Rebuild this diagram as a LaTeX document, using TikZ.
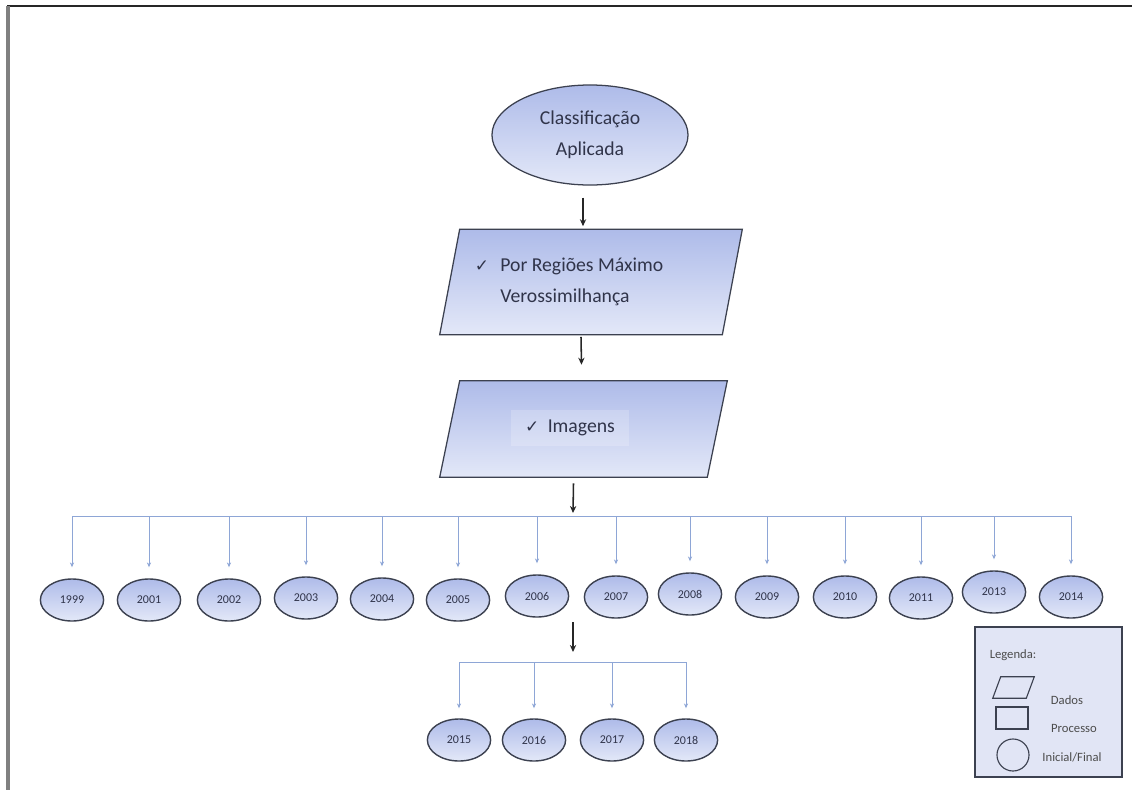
\documentclass[tikz,border=0pt]{standalone}
\usepackage{fontspec}
\setmainfont{Carlito}
\newfontfamily\symfont{DejaVu Sans}
\usetikzlibrary{positioning,arrows.meta,shapes.geometric,calc}
\definecolor{shapeblue}{HTML}{AEBBE9}
\definecolor{shapepale}{HTML}{E3E8F8}
\definecolor{edgeclr}{HTML}{3C4150}
\definecolor{linkblue}{HTML}{8EA6D6}
\definecolor{txtclr}{HTML}{30344A}
\definecolor{legendbg}{HTML}{E1E5F5}
\newcommand{\chk}[1]{{\symfont\fontsize{12}{12}\selectfont ✓}\hspace{#1}}

\begin{document}
\begin{tikzpicture}[
    x=0.025cm, y=-0.025cm,
    inicio/.style={ellipse, draw=edgeclr, line width=0.9pt, top color=shapeblue,
                   bottom color=shapepale, text=txtclr, align=center,
                   font=\fontsize{14}{22}\selectfont, minimum width=4.9cm, minimum height=2.5cm},
    dadosbox/.style={rectangle, inner sep=0pt},
    dados/.style={draw=edgeclr, line width=0.9pt, top color=shapeblue, bottom color=shapepale},
    dadostxt/.style={align=left, text=txtclr, font=\fontsize{14}{22}\selectfont},
    ano/.style={ellipse, draw=edgeclr, line width=1pt, top color=shapeblue,
                bottom color=shapepale, minimum width=1.58cm, minimum height=1.05cm,
                inner sep=0pt, text=txtclr, font=\fontsize{8.5}{10}\selectfont},
    arr/.style={-{Stealth[length=5pt,width=4.5pt]}, line width=1.1pt, black!85},
    link/.style={draw=linkblue, line width=0.6pt},
    linkarr/.style={link, -{Stealth[length=3.5pt,width=3pt]}},
    leg/.style={text=black!70, font=\fontsize{9}{10}\selectfont},
    legshape/.style={draw=edgeclr, line width=0.8pt}
  ]
    \useasboundingbox (0,0) rectangle (1132,790);
    \draw[line width=1.5pt, black!85] (7,6) -- (1132,6);
    \draw[line width=2.8pt, black!50] (8,6) -- (8,790);

    \node[inicio] (inicio) at (590,135) {Classificação\\Aplicada};

    \node[dadosbox, minimum width=7.55cm, minimum height=2.625cm] (porreg) at (591,282) {};
    \draw[dados] (porreg.south west) -- ($(porreg.south east)+(-20,0)$)
      -- (porreg.north east) -- ($(porreg.north west)+(20,0)$) -- cycle;
    \node[dadostxt, anchor=west] (porregtxt) at (470,282)
      {\chk{8pt}Por Regiões Máximo\\\phantom{\chk{8pt}}Verossimilhança};

    \node[dadosbox, minimum width=7.175cm, minimum height=2.4cm] (imagens) at (583.5,429) {};
    \draw[dados] (imagens.south west) -- ($(imagens.south east)+(-20,0)$)
      -- (imagens.north east) -- ($(imagens.north west)+(20,0)$) -- cycle;
    \node[dadostxt, fill=white, fill opacity=0.2, text opacity=1, inner xsep=10pt,
          inner ysep=7pt] (imagenstxt) at (570,428) {\chk{6pt}Imagens};

    \coordinate (bus1) at (573,516);
    \coordinate (split2) at (573,622);
    \coordinate (bus2) at (573,662);

    \draw[arr] ($(inicio.south)+(-7,12)$) -- ($(porreg.north)+(-8,-3)$);
    \draw[arr] ($(porreg.south)+(-10,2)$) -- ($(imagens.north)+(-2,-16)$);
    \draw[arr] ($(imagens.south)+(-10,6)$) -- ($(bus1)+(0,-3)$);

    \foreach \yr/\xx/\yy in {1999/72/600, 2001/149/600, 2002/229/600, 2003/306/598,
        2004/382/599, 2005/458/600, 2006/537/596, 2007/616/597, 2008/690/594,
        2009/767/597, 2010/845/597, 2011/921/598, 2013/994/592, 2014/1071/597}
      \node[ano] (y\yr) at (\xx,\yy) {\yr};
    \draw[link] (y1999 |- bus1) -- (y2014 |- bus1);
    \foreach \yr in {1999,2001,2002,2003,2004,2005,2006,2007,2008,2009,2010,2011,2013,2014}
      \draw[linkarr] (y\yr |- bus1) -- ($(y\yr.north)+(0,-11)$);

    \draw[arr] (split2) -- ($(bus2)+(0,-10)$);
    \foreach \yr/\xx in {2015/459, 2016/534, 2017/612, 2018/686}
      \node[ano] (y\yr) at (\xx,740) {\yr};
    \draw[link] (y2015 |- bus2) -- (y2018 |- bus2);
    \foreach \yr in {2015,2016,2017,2018}
      \draw[linkarr] (y\yr |- bus2) -- ($(y\yr.north)+(0,-10)$);

    \node[draw=edgeclr, line width=1pt, fill=legendbg, minimum width=3.675cm,
          minimum height=3.75cm] (legenda) at (1048.5,702) {};
    \node[leg] (legtit) at (1013,655) {Legenda:};
    \node[dadosbox, minimum width=1.025cm, minimum height=0.525cm] (legdados) at (1013.5,687.5) {};
    \draw[legshape] (legdados.south west) -- ($(legdados.south east)+(-8,0)$)
      -- (legdados.north east) -- ($(legdados.north west)+(8,0)$) -- cycle;
    \node[leg] (legdadostxt) at (1067,700) {Dados};
    \node[legshape, rectangle, minimum width=0.8cm, minimum height=0.55cm]
          (legproc) at (1012,718) {};
    \node[leg] (legproctxt) at (1074,728) {Processo};
    \node[legshape, circle, minimum size=0.8cm] (leginic) at (1013,755) {};
    \node[leg] (leginictxt) at (1072,757) {Inicial/Final};
\end{tikzpicture}
\end{document}
